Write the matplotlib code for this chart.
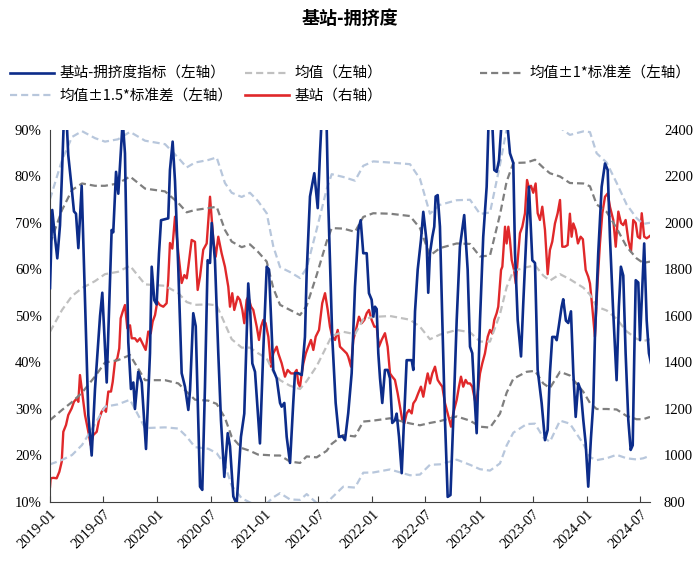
import numpy as np
import pandas as pd
import matplotlib
matplotlib.use("Agg")
import matplotlib.pyplot as plt
from matplotlib.lines import Line2D

# ---------------- data (time = years after 2019-01-01) ----------------
blue_t = [0.000, 0.021, 0.047, 0.068, 0.093, 0.109, 0.130, 0.155, 0.170, 0.202, 0.223, 0.242, 0.264, 0.295,
          0.357, 0.388, 0.419, 0.466, 0.487, 0.528, 0.574, 0.589, 0.615, 0.636, 0.652, 0.677, 0.698, 0.729,
          0.754, 0.776, 0.791, 0.822, 0.854, 0.894, 0.931, 0.947, 0.971, 0.993, 1.015, 1.034, 1.101, 1.117,
          1.142, 1.164, 1.195, 1.226, 1.257, 1.288, 1.304, 1.334, 1.357, 1.381, 1.397, 1.418, 1.443, 1.468,
          1.490, 1.506, 1.536, 1.567, 1.592, 1.623, 1.655, 1.676, 1.707, 1.738, 1.778, 1.809, 1.846, 1.865,
          1.884, 1.909, 1.955, 1.986, 2.018, 2.039, 2.079, 2.111, 2.142, 2.157, 2.182, 2.204, 2.235, 2.265,
          2.281, 2.312, 2.344, 2.374, 2.390, 2.421, 2.461, 2.493, 2.514, 2.535, 2.576, 2.591, 2.628, 2.660,
          2.691, 2.722, 2.747, 2.777, 2.809, 2.840, 2.871, 2.893, 2.917, 2.949, 2.970, 2.995, 3.010, 3.026,
          3.042, 3.057, 3.073, 3.094, 3.119, 3.144, 3.166, 3.187, 3.212, 3.228, 3.250, 3.275, 3.299, 3.321,
          3.343, 3.368, 3.383, 3.399, 3.424, 3.454, 3.476, 3.507, 3.522, 3.538, 3.560, 3.578, 3.591, 3.610,
          3.631, 3.653, 3.678, 3.703, 3.729, 3.755, 3.787, 3.817, 3.857, 3.889, 3.911, 3.932, 3.951, 3.973,
          4.004, 4.034, 4.066, 4.088, 4.112, 4.137, 4.159, 4.181, 4.206, 4.227, 4.252, 4.283, 4.314, 4.330,
          4.355, 4.386, 4.407, 4.438, 4.460, 4.491, 4.516, 4.541, 4.578, 4.609, 4.634, 4.655, 4.677, 4.702,
          4.718, 4.739, 4.764, 4.779, 4.804, 4.826, 4.851, 4.873, 4.895, 4.919, 4.942, 4.966, 4.988, 5.012,
          5.037, 5.059, 5.074, 5.105, 5.137, 5.168, 5.193, 5.214, 5.242, 5.276, 5.297, 5.316, 5.338, 5.360,
          5.385, 5.407, 5.426, 5.441, 5.454, 5.478, 5.494, 5.515, 5.533, 5.556, 5.577, 5.596]
blue_v = [56, 72.8, 66.7, 62.4, 69.5, 79, 93, 92, 84.6, 77.5, 72.5, 72, 64.6, 78,
          28.7, 20, 34.3, 50, 55, 35.7, 68.5, 68, 81, 76.3, 82.5, 92, 85, 44.4,
          34.3, 35.7, 30, 38, 35.7, 21.4, 42, 60.6, 53.4, 52.5, 63.5, 70.6, 71, 81.4,
          87.5, 79, 60, 37.7, 34.8, 29.8, 34, 50.6, 47.8, 27.6, 13.3, 12.6, 34.8, 62,
          61.4, 70, 62, 42, 27.6, 15.4, 24.8, 22, 11.2, 9.5, 24, 29, 57, 50.8,
          39.8, 38, 22.6, 42.5, 60.6, 60, 38.4, 36.6, 31.3, 30.5, 31.3, 24, 18.4, 31.3,
          37.7, 37.7, 37.3, 45.5, 59.2, 75.7, 80.7, 73.2, 85, 95, 91, 74.3, 45.5, 31.3,
          24, 24.2, 23.3, 29.1, 37.7, 56.3, 68.5, 70.6, 63.5, 63.5, 54.9, 53.5, 49.9, 52,
          51.5, 42, 36.6, 31.3, 38.4, 38.4, 36.6, 27, 27.6, 29, 24, 16.2, 29, 40.5,
          40.5, 40.5, 38.4, 51, 60, 66.3, 72.4, 66, 55, 63.5, 67, 69.2, 75.7, 76,
          69.2, 49.1, 27.6, 11.1, 11.5, 27.6, 49.1, 64.9, 71.7, 60, 43.4, 42, 33.4, 24.8,
          49.1, 67, 77.8, 95, 95, 81.4, 81, 83.5, 92, 97, 93, 85, 82.9, 63.5,
          49.1, 41.3, 52.8, 68.5, 77.8, 62, 61.4, 38.4, 31.3, 23.3, 25.5, 37.7, 45.5, 45.5,
          44.8, 48, 52, 53.6, 49, 48.5, 51, 37.7, 28.3, 35.5, 34, 27.6, 22.6, 13.3,
          23.7, 31.3, 45.5, 63.5, 77.8, 82.8, 81.4, 67, 52, 36.2, 52, 60.6, 58.7, 42,
          27.6, 21.2, 22.2, 42, 57.7, 57.2, 44.8, 56.3, 65.6, 49.1, 42, 39.9]

red_t = [0.000, 0.006, 0.031, 0.062, 0.087, 0.109, 0.124, 0.149, 0.170, 0.202, 0.223, 0.249, 0.264, 0.279,
         0.295, 0.326, 0.357, 0.379, 0.403, 0.435, 0.459, 0.481, 0.503, 0.521, 0.543, 0.568, 0.584, 0.605,
         0.627, 0.645, 0.658, 0.677, 0.698, 0.720, 0.745, 0.761, 0.791, 0.813, 0.838, 0.869, 0.891, 0.915,
         0.938, 0.956, 0.978, 0.999, 1.024, 1.055, 1.086, 1.101, 1.117, 1.139, 1.164, 1.195, 1.226, 1.251,
         1.273, 1.288, 1.319, 1.350, 1.375, 1.397, 1.427, 1.459, 1.490, 1.521, 1.543, 1.567, 1.598, 1.629,
         1.660, 1.676, 1.697, 1.716, 1.748, 1.769, 1.791, 1.809, 1.831, 1.846, 1.872, 1.893, 1.925, 1.946,
         1.965, 1.986, 2.008, 2.033, 2.058, 2.079, 2.111, 2.126, 2.157, 2.188, 2.213, 2.244, 2.275, 2.297,
         2.312, 2.328, 2.344, 2.359, 2.382, 2.405, 2.430, 2.452, 2.474, 2.505, 2.535, 2.561, 2.586, 2.607,
         2.628, 2.654, 2.679, 2.700, 2.731, 2.763, 2.777, 2.803, 2.824, 2.856, 2.877, 2.902, 2.927, 2.949,
         2.970, 2.995, 3.020, 3.042, 3.063, 3.088, 3.119, 3.144, 3.166, 3.187, 3.212, 3.237, 3.259, 3.280,
         3.299, 3.321, 3.343, 3.368, 3.383, 3.405, 3.429, 3.454, 3.476, 3.498, 3.517, 3.538, 3.560, 3.585,
         3.610, 3.631, 3.653, 3.678, 3.703, 3.734, 3.755, 3.787, 3.808, 3.827, 3.848, 3.870, 3.889, 3.911,
         3.932, 3.963, 3.982, 4.004, 4.025, 4.050, 4.076, 4.097, 4.118, 4.137, 4.159, 4.174, 4.200, 4.212,
         4.237, 4.252, 4.268, 4.283, 4.299, 4.321, 4.337, 4.355, 4.376, 4.398, 4.423, 4.442, 4.460, 4.479,
         4.500, 4.522, 4.541, 4.562, 4.584, 4.609, 4.634, 4.655, 4.677, 4.702, 4.727, 4.749, 4.770, 4.795,
         4.820, 4.841, 4.857, 4.873, 4.895, 4.916, 4.941, 4.962, 4.988, 5.012, 5.028, 5.049, 5.074, 5.100,
         5.121, 5.143, 5.168, 5.193, 5.214, 5.245, 5.268, 5.292, 5.317, 5.338, 5.360, 5.385, 5.410, 5.431,
         5.454, 5.473, 5.494, 5.510, 5.533, 5.556, 5.577, 5.596]
red_v = [865, 902, 904, 902, 930, 973, 1102, 1131, 1174, 1203, 1231, 1246, 1231, 1346,
         1289, 1174, 1102, 1045, 1088, 1102, 1160, 1188, 1203, 1188, 1275, 1275, 1317, 1403,
         1418, 1461, 1590, 1619, 1647, 1547, 1560, 1504, 1504, 1490, 1504, 1475, 1454, 1533,
         1525, 1576, 1604, 1662, 1647, 1640, 1655, 1755, 1914, 1890, 2027, 1870, 1742, 1776,
         1762, 1812, 1927, 1919, 1712, 1770, 1885, 1912, 2113, 1927, 1855, 1941, 1870, 1812,
         1726, 1640, 1698, 1626, 1683, 1669, 1626, 1569, 1669, 1683, 1640, 1626, 1554, 1497,
         1554, 1583, 1569, 1511, 1382, 1439, 1468, 1439, 1397, 1339, 1368, 1353, 1353, 1368,
         1310, 1296, 1353, 1396, 1439, 1468, 1497, 1454, 1511, 1540, 1655, 1698, 1626, 1554,
         1511, 1497, 1540, 1468, 1454, 1439, 1425, 1382, 1497, 1554, 1597, 1569, 1583, 1612,
         1626, 1583, 1554, 1554, 1468, 1497, 1526, 1468, 1353, 1339, 1325, 1268, 1210, 1153,
         1138, 1181, 1196, 1181, 1224, 1239, 1268, 1296, 1253, 1310, 1353, 1310, 1353, 1382,
         1325, 1310, 1296, 1225, 1181, 1124, 1181, 1239, 1296, 1339, 1296, 1325, 1310, 1310,
         1296, 1224, 1268, 1353, 1396, 1439, 1511, 1540, 1525, 1583, 1612, 1640, 1798, 1812,
         1984, 1912, 1984, 1927, 1841, 1798, 1740, 1841, 1956, 1984, 2042, 2185, 2150, 2160,
         2130, 2170, 2042, 2013, 2070, 1970, 1780, 1884, 1920, 1998, 2042, 2099, 1898, 1898,
         1905, 2040, 1941, 1998, 1970, 1912, 1941, 1930, 1798, 1769, 1740, 1640, 1511, 1755,
         1912, 2042, 2113, 2127, 2070, 2013, 1898, 2049, 2000, 1991, 2013, 1927, 1877, 2013,
         2000, 1941, 1934, 2042, 1941, 1934, 1941, 1948]

band_t = [0.000, 0.112, 0.205, 0.298, 0.419, 0.512, 0.633, 0.745, 0.885, 1.071, 1.195, 1.273, 1.350, 1.474,
          1.552, 1.629, 1.692, 1.785, 1.862, 1.937, 2.018, 2.079, 2.142, 2.235, 2.328, 2.390, 2.483, 2.576,
          2.623, 2.731, 2.840, 2.917, 3.010, 3.166, 3.352, 3.445, 3.538, 3.631, 3.787, 3.911, 4.004, 4.097,
          4.190, 4.252, 4.314, 4.438, 4.516, 4.593, 4.655, 4.749, 4.841, 4.966, 5.028, 5.090, 5.183, 5.276,
          5.369, 5.462, 5.524, 5.587]
mean_v = [46.6, 51.3, 54.3, 56.0, 57.5, 59.0, 59.5, 60.8, 56.8, 56.5, 54.9, 53.0, 52.4, 52.5,
          52.3, 48.3, 45.0, 43.2, 43.2, 42.0, 40.9, 38.0, 36.2, 35.0, 34.3, 36.0, 39.2, 43.5,
          45.7, 46.6, 46.1, 49.3, 49.8, 50.0, 49.2, 47.7, 45.0, 46.0, 47.0, 46.5, 44.5, 44.5,
          50.4, 56.2, 59.7, 60.5, 60.9, 58.7, 57.6, 59.0, 57.9, 56.1, 54.6, 52.0, 51.2, 49.4,
          46.7, 45.1, 44.6, 45.0]
std_v = [19.0, 21.5, 22.8, 22.5, 20.5, 19.0, 19.0, 19.2, 20.6, 20.3, 19.4, 19.3, 20.4, 20.7,
         21.2, 20.2, 21.0, 21.6, 22.2, 21.8, 20.8, 18.0, 16.2, 16.3, 15.9, 16.2, 19.6, 22.5,
         23.2, 22.2, 22.0, 22.0, 22.3, 22.0, 22.3, 21.2, 18.0, 18.6, 18.6, 19.0, 18.3, 18.5,
         21.4, 22.7, 23.2, 22.5, 22.7, 23.2, 23.1, 21.0, 20.7, 22.4, 23.3, 22.0, 21.2, 19.5,
         18.2, 17.3, 16.8, 16.7]

x_ticks = ["2019-01", "2019-07", "2020-01", "2020-07", "2021-01", "2021-07",
           "2022-01", "2022-07", "2023-01", "2023-07", "2024-01", "2024-07"]
left_ticks = [10, 20, 30, 40, 50, 60, 70, 80, 90]
right_ticks = [800, 1000, 1200, 1400, 1600, 1800, 2000, 2200, 2400]

title = "基站-拥挤度"
lab_blue = "基站-拥挤度指标（左轴）"
lab_mean = "均值（左轴）"
lab_std1 = "均值±1*标准差（左轴）"
lab_std15 = "均值±1.5*标准差（左轴）"
lab_red = "基站（右轴）"

# ---------------- helpers ----------------
T0 = pd.Timestamp("2019-01-01")


def to_dates(offs):
    return T0 + pd.to_timedelta(np.asarray(offs) * 365.25, unit="D")


bd = to_dates(band_t)
mean_a = np.array(mean_v)
std_a = np.array(std_v)

C_BLUE = "#0c2c8a"
C_RED = "#e0282a"
C_MEAN = "#c0c0c0"
C_STD1 = "#7f7f7f"
C_STD15 = "#b8c7dc"

CJK = ["Noto Sans CJK SC", "DejaVu Sans"]
SERIF = ["Liberation Serif", "DejaVu Serif"]

fig = plt.figure(figsize=(7.0, 5.65), dpi=100)
ax = fig.add_axes([50 / 700, 1 - 502 / 565, 600 / 700, 372 / 565])
ax2 = ax.twinx()

dash = (3.2, 1.8)
ax.plot(bd, mean_a + 1.5 * std_a, color=C_STD15, lw=1.6, dashes=dash, zorder=2)
ax.plot(bd, mean_a - 1.5 * std_a, color=C_STD15, lw=1.6, dashes=dash, zorder=2)
ax.plot(bd, mean_a, color=C_MEAN, lw=1.6, dashes=dash, zorder=2)
ax.plot(bd, mean_a + std_a, color=C_STD1, lw=1.6, dashes=dash, zorder=2)
ax.plot(bd, mean_a - std_a, color=C_STD1, lw=1.6, dashes=dash, zorder=2)
ax.plot(to_dates(blue_t), blue_v, color=C_BLUE, lw=1.9, zorder=4)
ax2.plot(to_dates(red_t), red_v, color=C_RED, lw=1.7, zorder=3)

ax.set_zorder(ax2.get_zorder() + 1)
ax.patch.set_visible(False)

ax.set_ylim(10, 90)
ax2.set_ylim(800, 2400)
ax.set_xlim(to_dates([0.0])[0], to_dates([5.587])[0])

ax.set_yticks(left_ticks)
ax.set_yticklabels([f"{v}%" for v in left_ticks], fontfamily=SERIF, fontsize=10.5)
ax2.set_yticks(right_ticks)
ax2.set_yticklabels([str(v) for v in right_ticks], fontfamily=SERIF, fontsize=10.5)

xt = pd.to_datetime([s + "-01" for s in x_ticks])
ax.set_xticks(xt)
ax.set_xticklabels(x_ticks, rotation=45, ha="right", rotation_mode="anchor",
                   fontfamily=SERIF, fontsize=10.5)

for a in (ax, ax2):
    for s in ("top", "right", "left", "bottom"):
        a.spines[s].set_visible(False)
ax.spines["bottom"].set_visible(True)
ax.spines["bottom"].set_color("#404040")
ax.spines["left"].set_visible(True)
ax.spines["left"].set_color("#404040")
ax.spines["left"].set_linewidth(0.8)

ax.tick_params(axis="x", direction="in", length=4, color="#404040", pad=4)
ax.tick_params(axis="y", length=0, pad=6)
ax2.tick_params(axis="y", length=0, pad=10)

fig.text(0.5, 1 - 18 / 565, title, ha="center", va="center", fontsize=13,
         fontweight="bold", family=CJK)


def handle(color, dashed):
    if dashed:
        return Line2D([], [], color=color, lw=1.6, dashes=dash)
    return Line2D([], [], color=color, lw=1.9)


leg_kw = dict(frameon=False, handlelength=3.0, handletextpad=0.4,
              labelspacing=0.55, borderaxespad=0, borderpad=0,
              prop={"family": CJK, "size": 10.5})
top = 1 - 67 / 565
fig.legend([handle(C_BLUE, False), handle(C_STD15, True)], [lab_blue, lab_std15],
           loc="upper left", bbox_to_anchor=(10 / 700, top), **leg_kw)
fig.legend([handle(C_MEAN, True), handle(C_RED, False)], [lab_mean, lab_red],
           loc="upper left", bbox_to_anchor=(245 / 700, top), **leg_kw)
fig.legend([handle(C_STD1, True)], [lab_std1],
           loc="upper left", bbox_to_anchor=(480 / 700, top), **leg_kw)

fig.savefig("out.png", dpi=100)
